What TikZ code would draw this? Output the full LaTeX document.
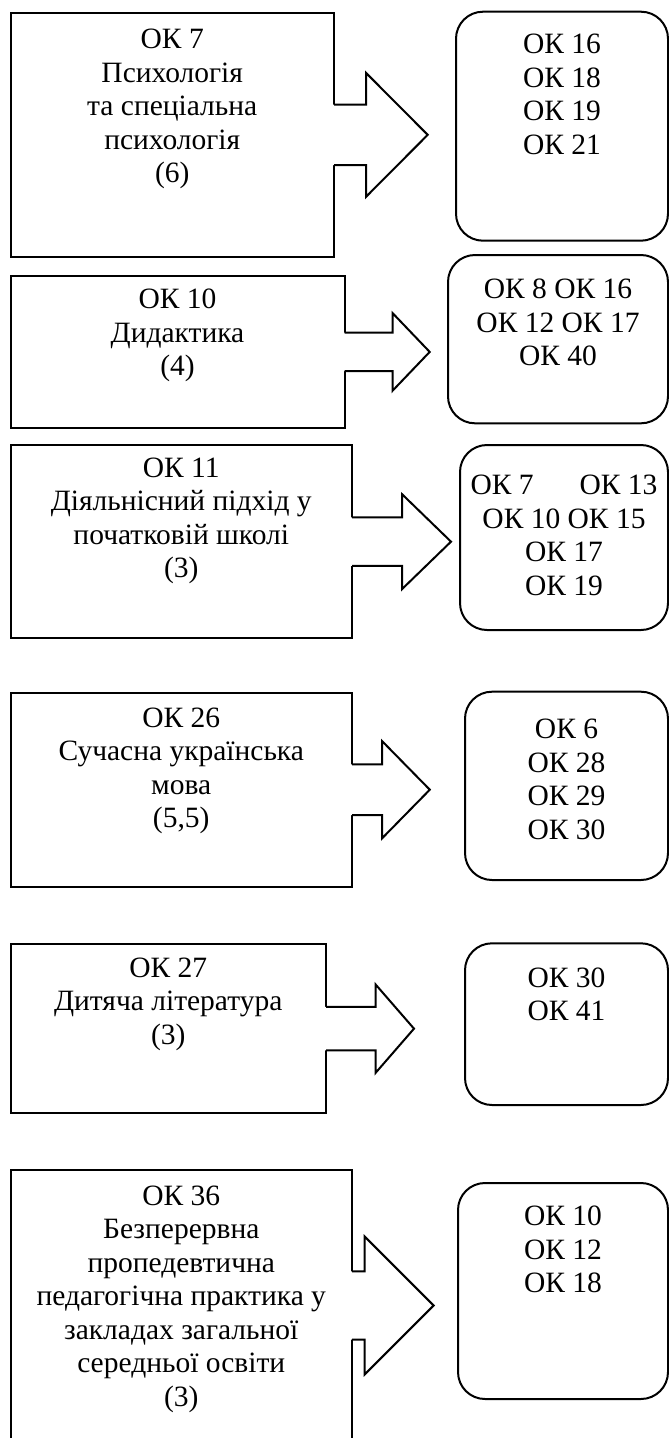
\documentclass[tikz,border=0pt]{standalone}
\usepackage{fontspec}
\setmainfont{Liberation Serif}
\tikzset{
  lbox/.style={draw, line width=2pt, fill=white, rectangle, inner sep=0pt},
  rbox/.style={draw, line width=2pt, rounded corners=27pt, rectangle, inner sep=0pt},
  txt/.style={anchor=north, inner sep=0pt, align=center,
    font=\fontsize{29.5}{33.5}\selectfont, execute at begin node={\rule{0pt}{24pt}}},
  arr/.style={line width=2pt, line join=miter},
}
% #1 box, #2 shaft half height, #3 shaft length, #4 head half height, #5 head length
\newcommand{\blockarrow}[5]{%
  \fill[white] ([yshift=#2pt, xshift=-2pt]#1.east) -- ++({#3+2},0) -- ++(0,{-(#4-#2)}) -- ++(#5,#4) -- ++(-#5,#4) -- ++(0,{-(#4-#2)}) -- ++({-(#3+2)},0) -- cycle;
  \draw[arr] ([yshift=#2pt, xshift=-1pt]#1.east) -- ++({#3+1},0) -- ++(0,{-(#4-#2)}) -- ++(#5,#4) -- ++(-#5,#4) -- ++(0,{-(#4-#2)}) -- ++({-(#3+1)},0);
}
\begin{document}
\begin{tikzpicture}[x=1pt,y=-1pt]
\useasboundingbox (0,0) rectangle (669,1438);

% left boxes
\node[lbox, minimum width=323.5pt, minimum height=244.3pt] (b1) at (172.25,134.85) {};
\node[lbox, minimum width=334pt, minimum height=152.8pt] (b2) at (177.5,351.9) {};
\node[lbox, minimum width=341.5pt, minimum height=193.3pt] (b3) at (181.25,541.65) {};
\node[lbox, minimum width=341.5pt, minimum height=194pt] (b4) at (181.25,789.7) {};
\node[lbox, minimum width=315.5pt, minimum height=169.3pt] (b5) at (168.25,1028.65) {};
\node[lbox, minimum width=341.5pt, minimum height=271pt] (b6) at (181.25,1305.5) {};

% right rounded boxes
\node[rbox, minimum width=212pt, minimum height=229pt] (r1) at (562,126.2) {};
\node[rbox, minimum width=220pt, minimum height=168.3pt] (r2) at (558,339.15) {};
\node[rbox, minimum width=208pt, minimum height=185pt] (r3) at (564,537.5) {};
\node[rbox, minimum width=203pt, minimum height=188.3pt] (r4) at (566.5,785.85) {};
\node[rbox, minimum width=203pt, minimum height=161.7pt] (r5) at (566.5,1024.15) {};
\node[rbox, minimum width=210pt, minimum height=216pt] (r6) at (563,1291) {};

% block arrows
\blockarrow{b1}{30.3}{31}{62}{61.7}
\blockarrow{b2}{19.2}{47}{38.9}{37.2}
\blockarrow{b3}{24.3}{49}{47.5}{49}
\blockarrow{b4}{25.3}{29}{48.7}{47.8}
\blockarrow{b5}{21.7}{48.6}{44.2}{38.4}
\blockarrow{b6}{34.2}{11.6}{69}{69}

% texts in left boxes
\node[txt] (t1) at ([yshift=-17.3pt]b1.north) {ОК 7\\Психологія\\та спеціальна\\психологія\\(6)};
\node[txt] (t2) at ([yshift=-14.5pt]b2.north) {ОК 10\\Дидактика\\(4)};
\node[txt] (t3) at ([yshift=-13.3pt]b3.north) {ОК 11\\Діяльнісний підхід у\\початковій школі\\(3)};
\node[txt] (t4) at ([yshift=-15.6pt]b4.north) {ОК 26\\Сучасна українська\\мова\\(5,5)};
\node[txt] (t5) at ([yshift=-14.3pt]b5.north) {ОК 27\\Дитяча література\\(3)};
\node[txt] (t6) at ([yshift=-16.7pt]b6.north) {ОК 36\\Безперервна\\пропедевтична\\педагогічна практика у\\закладах загальної\\середньої освіти\\(3)};

% texts in rounded boxes
\node[txt] (s1) at ([yshift=-23.3pt]r1.north) {ОК 16\\ОК 18\\ОК 19\\ОК 21};
\node[txt] (s2) at ([yshift=-25pt]r2.north) {ОК 8 ОК 16\\ОК 12 ОК 17\\ОК 40};
\node[txt] (s3) at ([yshift=-31pt]r3.north) {ОК 7\hspace{46pt}ОК 13\\ОК 10 ОК 15\\ОК 17\\ОК 19};
\node[txt] (s4) at ([yshift=-28.3pt]r4.north) {ОК 6\\ОК 28\\ОК 29\\ОК 30};
\node[txt] (s5) at ([yshift=-25pt]r5.north) {ОК 30\\ОК 41};
\node[txt] (s6) at ([yshift=-24pt]r6.north) {ОК 10\\ОК 12\\ОК 18};
\end{tikzpicture}
\end{document}
